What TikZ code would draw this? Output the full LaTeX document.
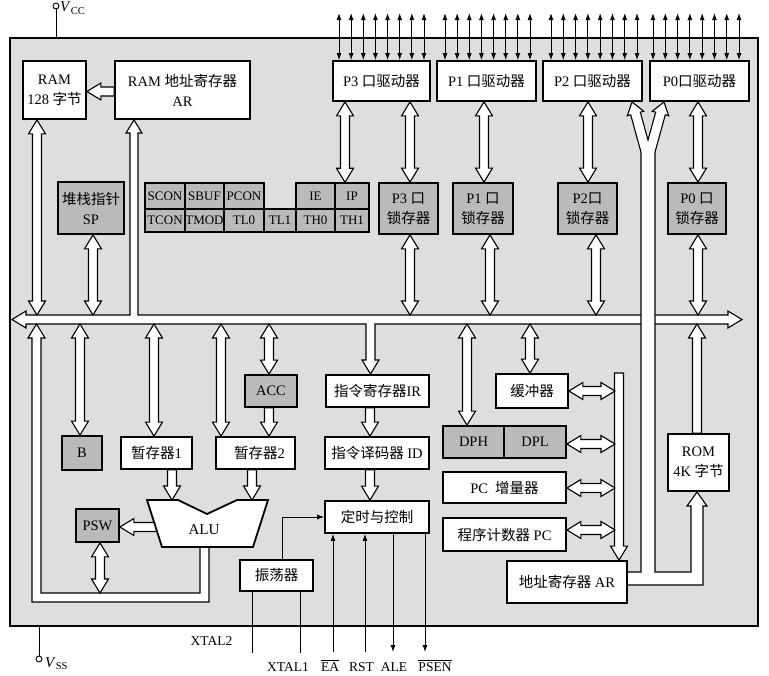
\documentclass[tikz,border=0pt]{standalone}
\usepackage{fontspec}
\setmainfont{Liberation Serif}
\newfontfamily\cjkf{Noto Sans CJK SC}
\usetikzlibrary{calc,arrows.meta}
\pgfdeclarelayer{back}
\pgfdeclarelayer{mid}
\pgfsetlayers{back,mid,main}
\newcommand\zh[1]{{\cjkf #1}}
% hollow arrows: x in px, anchors for ends
\newcommand\vda[3]{\draw[harr] let \p1=(#2), \p2=(#3) in
 ({#1pt},\y1) -- ({#1pt+8.5pt},{\y1-14pt}) -- ({#1pt+4.5pt},{\y1-14pt}) -- ({#1pt+4.5pt},{\y2+14pt}) -- ({#1pt+8.5pt},{\y2+14pt}) -- ({#1pt},\y2)
 -- ({#1pt-8.5pt},{\y2+14pt}) -- ({#1pt-4.5pt},{\y2+14pt}) -- ({#1pt-4.5pt},{\y1-14pt}) -- ({#1pt-8.5pt},{\y1-14pt}) -- cycle;}
\newcommand\vsd[3]{\draw[harr] let \p1=(#2), \p2=(#3) in
 ({#1pt-4.5pt},\y1) -- ({#1pt-4.5pt},{\y2+14pt}) -- ({#1pt-8.5pt},{\y2+14pt}) -- ({#1pt},\y2) -- ({#1pt+8.5pt},{\y2+14pt}) -- ({#1pt+4.5pt},{\y2+14pt}) -- ({#1pt+4.5pt},\y1) -- cycle;}
\newcommand\vsu[3]{\draw[harr] let \p1=(#2), \p2=(#3) in
 ({#1pt-4.5pt},\y2) -- ({#1pt-4.5pt},{\y1-14pt}) -- ({#1pt-8.5pt},{\y1-14pt}) -- ({#1pt},\y1) -- ({#1pt+8.5pt},{\y1-14pt}) -- ({#1pt+4.5pt},{\y1-14pt}) -- ({#1pt+4.5pt},\y2) -- cycle;}
\newcommand\hda[3]{\draw[harr] let \p1=(#2), \p2=(#3) in
 (\x1,{-#1pt}) -- ({\x1+14pt},{-#1pt+8.5pt}) -- ({\x1+14pt},{-#1pt+4.5pt}) -- ({\x2-14pt},{-#1pt+4.5pt}) -- ({\x2-14pt},{-#1pt+8.5pt}) -- (\x2,{-#1pt})
 -- ({\x2-14pt},{-#1pt-8.5pt}) -- ({\x2-14pt},{-#1pt-4.5pt}) -- ({\x1+14pt},{-#1pt-4.5pt}) -- ({\x1+14pt},{-#1pt-8.5pt}) -- cycle;}
\newcommand\hsl[3]{\draw[harr] let \p1=(#2), \p2=(#3) in
 (\x1,{-#1pt}) -- ({\x1+14pt},{-#1pt+8.5pt}) -- ({\x1+14pt},{-#1pt+4.5pt}) -- (\x2,{-#1pt+4.5pt}) -- (\x2,{-#1pt-4.5pt}) -- ({\x1+14pt},{-#1pt-4.5pt}) -- ({\x1+14pt},{-#1pt-8.5pt}) -- cycle;}
\begin{document}
\begin{tikzpicture}[x=1pt,y=-1pt,
 wbox/.style={draw, line width=1.8pt, fill=white, inner sep=0pt, align=center, font=\fontsize{14.5}{20}\selectfont},
 gbox/.style={wbox, fill=black!27},
 sfr/.style={draw, line width=1.4pt, fill=black!27, inner sep=0pt, font=\fontsize{13}{14}\selectfont},
 harr/.style={draw, fill=white, line width=1.1pt, line join=miter},
 portarr/.style={line width=0.9pt, {Latex[length=7pt,width=5pt]}-{Latex[length=7pt,width=5pt]}},
 sarr/.style={line width=0.9pt, -{Latex[length=7pt,width=5pt]}},
 lbl/.style={font=\fontsize{13.5}{15}\selectfont, inner sep=0pt}]
\useasboundingbox (0,0) rectangle (769,676);
\begin{pgfonlayer}{back}
\node[draw, line width=2pt, fill=black!13, minimum width=748pt, minimum height=588pt, inner sep=0pt] (chip) at (384,332) {};
\end{pgfonlayer}
% ---- top row
\node[wbox, minimum width=63pt, minimum height=58pt] (ram) at (54.5,90) {RAM\\128 \zh{字节}};
\node[wbox, minimum width=135pt, minimum height=58pt] (ramar) at (182.5,90) {RAM \zh{地址寄存器}\\AR};
\node[wbox, minimum width=97pt, minimum height=40pt] (p3d) at (381.5,81) {P3 \zh{口驱动器}};
\node[wbox, minimum width=99pt, minimum height=40pt] (p1d) at (486.5,81) {P1 \zh{口驱动器}};
\node[wbox, minimum width=99pt, minimum height=40pt] (p2d) at (592.5,81) {P2 \zh{口驱动器}};
\node[wbox, minimum width=99pt, minimum height=40pt] (p0d) at (699.5,81) {P0\zh{口驱动器}};
% ---- second row
\node[gbox, minimum width=66pt, minimum height=52pt] (sp) at (91,208) {\zh{堆栈指针}\\SP};
\node[sfr, minimum width=40pt, minimum height=26pt] (scon) at (165,196) {SCON};
\node[sfr, minimum width=39pt, minimum height=26pt] (sbuf) at (204.5,196) {SBUF};
\node[sfr, minimum width=40pt, minimum height=26pt] (pcon) at (244,196) {PCON};
\node[sfr, minimum width=39pt, minimum height=26pt] (ie) at (315.5,196) {IE};
\node[sfr, minimum width=34pt, minimum height=26pt] (ip) at (352,196) {IP};
\node[sfr, minimum width=40pt, minimum height=23pt] (tcon) at (165,220.5) {TCON};
\node[sfr, minimum width=39pt, minimum height=23pt] (tmod) at (204.5,220.5) {TMOD};
\node[sfr, minimum width=40pt, minimum height=23pt] (tlo) at (244,220.5) {TL0};
\node[sfr, minimum width=32pt, minimum height=23pt] (tli) at (280,220.5) {TL1};
\node[sfr, minimum width=39pt, minimum height=23pt] (tho) at (315.5,220.5) {TH0};
\node[sfr, minimum width=34pt, minimum height=23pt] (thi) at (352,220.5) {TH1};
\node[gbox, minimum width=59pt, minimum height=51pt] (p3l) at (408.5,208.5) {P3 \zh{口}\\\zh{锁存器}};
\node[gbox, minimum width=60pt, minimum height=51pt] (p1l) at (483,208.5) {P1 \zh{口}\\\zh{锁存器}};
\node[gbox, minimum width=59pt, minimum height=51pt] (p2l) at (587.5,208.5) {P2\zh{口}\\\zh{锁存器}};
\node[gbox, minimum width=58pt, minimum height=51pt] (p0l) at (697,208.5) {P0 \zh{口}\\\zh{锁存器}};
% ---- lower part
\node[gbox, minimum width=52pt, minimum height=32pt] (acc) at (271,391) {ACC};
\node[wbox, minimum width=103pt, minimum height=32pt] (ir) at (377.5,391) {\zh{指令寄存器}IR};
\node[gbox, minimum width=40pt, minimum height=34pt] (b) at (82,453) {B};
\node[wbox, minimum width=71pt, minimum height=32pt] (t1) at (156.5,453) {\zh{暂存器}1};
\node[wbox, minimum width=79pt, minimum height=32pt] (t2) at (255.5,453) {\hspace{8pt}\zh{暂存器}2};
\node[wbox, minimum width=104pt, minimum height=32pt] (id) at (377,453) {\zh{指令译码器} ID};
\node[wbox, minimum width=104pt, minimum height=32pt] (tc) at (377,517) {\zh{定时与控制}};
\node[gbox, minimum width=43pt, minimum height=33pt] (psw) at (97.5,525.5) {PSW};
\node[wbox, minimum width=73pt, minimum height=31pt] (osc) at (276.5,575.5) {\zh{振荡器}};
\node[wbox, minimum width=72pt, minimum height=34pt] (buf) at (532,391) {\zh{缓冲器}};
\node[gbox, minimum width=61pt, minimum height=32pt] (dph) at (473.5,442) {DPH};
\node[gbox, minimum width=62pt, minimum height=32pt] (dpl) at (535,442) {DPL};
\node[wbox, minimum width=123pt, minimum height=31pt] (pci) at (504.5,487.5) {PC\ \ \zh{增量器}};
\node[wbox, minimum width=123pt, minimum height=33pt] (pc) at (504.5,534.5) {\zh{程序计数器} PC};
\node[wbox, minimum width=120pt, minimum height=42pt] (ar) at (567,582) {\zh{地址寄存器} AR};
\node[wbox, minimum width=61pt, minimum height=57pt] (rom) at (698.5,462.5) {ROM\\4K \zh{字节}};
% ALU
\draw[line width=1.8pt, fill=white, line join=miter] (147,500) -- (178,500) -- (207,514) -- (237,500) -- (268,500) -- (253,547) -- (162,547) -- cycle;
\node[font=\fontsize{15}{17}\selectfont] (alu) at (204,530) {ALU};
% helper coordinates
\coordinate (bustop) at (0,315);
\coordinate (busbot) at (0,324);
\coordinate (alutop) at (0,500);
\coordinate (loopin) at (0,593);
\coordinate (colL) at (615,0);
\coordinate (coltop) at (0,373);
\coordinate (aluw) at (162,527);
% ---- hollow buses and arrows
\begin{pgfonlayer}{mid}
% internal bus with branch up to RAM AR and down to IR
\draw[harr] (12,319.5) -- (26,311) -- (26,315) -- (130,315) -- (130,133) -- (126,133) -- (134,120) -- (142,133) -- (138,133) -- (138,315)
 -- (728,315) -- (728,311) -- (742,319.5) -- (728,328) -- (728,324) -- (375,324) -- (375,360) -- (379,360) -- (370.5,374) -- (362,360) -- (366,360) -- (366,324)
 -- (26,324) -- (26,328) -- cycle;
% address output of AR: Y to P2/P0 drivers and to ROM
\draw[harr] (626,572) -- (641,572) -- (641,152.2) -- (630.7,114.8) -- (627.3,115.8) -- (632,102) -- (643.7,111.2) -- (640.3,112.2) -- (648,140)
 -- (655.7,112.2) -- (652.3,111.2) -- (664,102) -- (668.7,115.8) -- (665.3,114.8) -- (655,152.2) -- (655,572) -- (691,572) -- (691,506)
 -- (687,506) -- (697,492) -- (707,506) -- (703,506) -- (703,585) -- (626,585) -- cycle;
% ALU result loop back to the bus
\draw[harr] (200,547) -- (200,593) -- (41,593) -- (41,338) -- (45,338) -- (36.5,324) -- (28,338) -- (32,338) -- (32,602) -- (209,602) -- (209,547) -- cycle;
\vda{37}{ram.south}{bustop}
\vda{93}{sp.south}{bustop}
\vda{345}{p3d.south}{ip.north}
\vda{410}{p3d.south}{p3l.north}
\vda{410}{p3l.south}{bustop}
\vda{484}{p1d.south}{p1l.north}
\vda{490}{p1l.south}{bustop}
\vda{588}{p2d.south}{p2l.north}
\vda{596}{p2l.south}{bustop}
\vda{698}{p0d.south}{p0l.north}
\vda{698}{p0l.south}{bustop}
\vda{80}{busbot}{b.north}
\vda{154}{busbot}{t1.north}
\vda{221}{busbot}{t2.north}
\vda{269}{busbot}{acc.north}
\vda{467}{busbot}{dph.north}
\vda{530}{busbot}{buf.north}
\vda{100}{psw.south}{loopin}
\vsd{269}{acc.south}{t2.north}
\vsd{172}{t1.south}{alutop}
\vsd{252}{t2.south}{alutop}
\vsd{370}{ir.south}{id.north}
\vsd{370}{id.south}{tc.north}
\vsd{619}{coltop}{ar.north}
\vsu{697}{busbot}{rom.north}
\hsl{91.5}{ram.east}{ramar.west}
\hsl{527}{psw.east}{aluw}
\hda{391}{buf.east}{colL}
\hda{444}{dpl.east}{colL}
\hda{488}{pci.east}{colL}
\hda{530}{pc.east}{colL}
\end{pgfonlayer}
% ---- port pins
\foreach \i in {0,...,7}{
 \draw[portarr] ($(p3d.north west)+(6.9+\i*12.14,-47)$) -- ($(p3d.north west)+(6.9+\i*12.14,0)$);
 \draw[portarr] ($(p1d.north west)+(8.9+\i*12.14,-47)$) -- ($(p1d.north west)+(8.9+\i*12.14,0)$);
 \draw[portarr] ($(p2d.north west)+(8.9+\i*12.29,-47)$) -- ($(p2d.north west)+(8.9+\i*12.29,0)$);
 \draw[portarr] ($(p0d.north west)+(3.9+\i*12.29,-47)$) -- ($(p0d.north west)+(3.9+\i*12.29,0)$);
}
% ---- oscillator and control lines
\draw[sarr] ([xshift=5.5pt]osc.north) |- (tc.west);
\draw[line width=0.9pt] ([xshift=-24.5pt]osc.south) -- ++(0,61);
\draw[line width=0.9pt] ([xshift=23.5pt]osc.south) -- ++(0,61);
\coordinate (ea) at (333,652);
\coordinate (rst) at (365,652);
\coordinate (ale) at (393,652);
\coordinate (psen) at (425,652);
\draw[sarr] (ea) -- (ea |- tc.south);
\draw[sarr] (rst) -- (rst |- tc.south);
\draw[sarr] (ale |- tc.south) -- (ale);
\draw[sarr] (psen |- tc.south) -- (psen);
\node[lbl] (xtal2) at (211.5,641) {XTAL2};
\node[lbl, anchor=base] (xtal1) at (288,671) {XTAL1};
\node[lbl, anchor=base] (eal) at (330,671) {$\overline{\mbox{EA}}$};
\node[lbl, anchor=base] (rstl) at (361.5,671) {RST};
\node[lbl, anchor=base] (alel) at (394,671) {ALE};
\node[lbl, anchor=base] (psenl) at (435,671) {$\overline{\mbox{PSEN}}$};
% ---- supply pins
\coordinate (vccpin) at (56,6);
\draw[line width=0.9pt] ([yshift=-3pt]vccpin) -- (vccpin |- chip.north);
\draw[line width=0.9pt, fill=white] (vccpin) circle (3pt);
\node[anchor=base west, inner sep=0pt, font=\fontsize{15}{17}\selectfont] (vcc) at (60,12) {\textit{V}\textsubscript{CC}};
\coordinate (vsspin) at (39,659);
\draw[line width=0.9pt] (vsspin |- chip.south) -- ([yshift=3pt]vsspin);
\draw[line width=0.9pt, fill=white] (vsspin) circle (3pt);
\node[anchor=base west, inner sep=0pt, font=\fontsize{15}{17}\selectfont] (vss) at (45,667) {\textit{V}\textsubscript{SS}};
\end{tikzpicture}
\end{document}
